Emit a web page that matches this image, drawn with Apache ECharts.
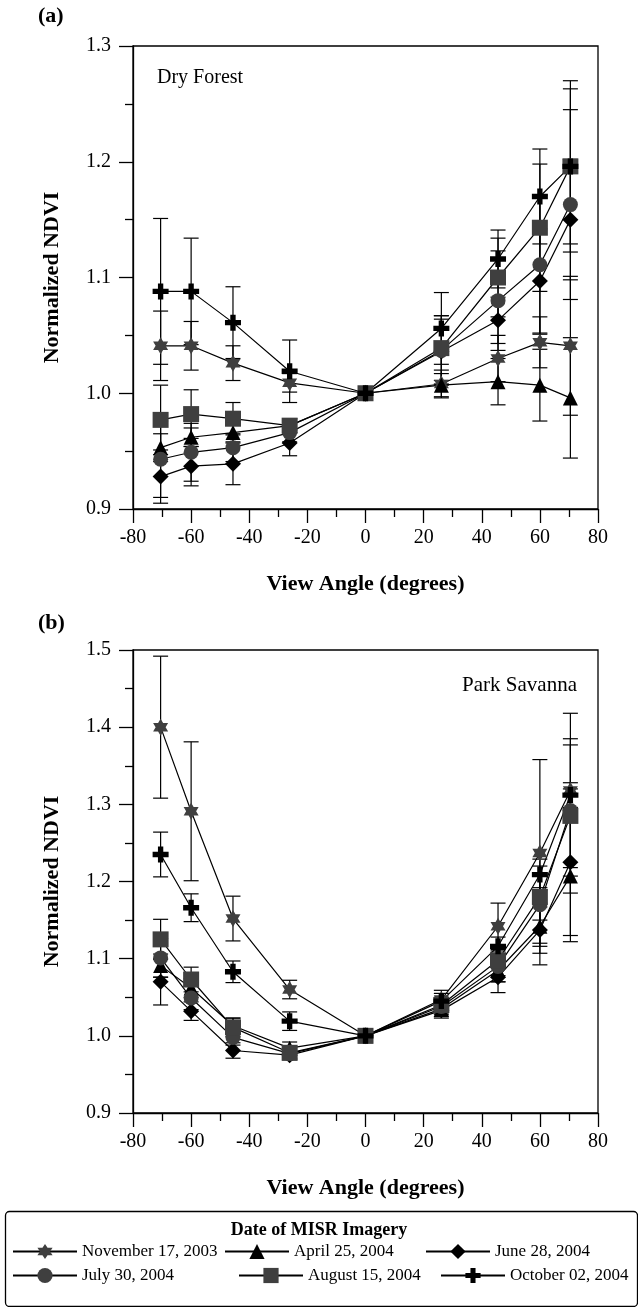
<!DOCTYPE html>
<html>
<head>
<meta charset="utf-8">
<script src="https://cdn.jsdelivr.net/npm/echarts@6/dist/echarts.min.js"></script>
<style>
html,body{margin:0;padding:0;background:#fff;}
#chart{width:638px;height:1307px;}
</style>
</head>
<body>
<div id="chart"></div>
<script>
// View angles (degrees) of the MISR cameras
const angles = [-70.5, -60, -45.6, -26.1, 0, 26.1, 45.6, 60, 70.5];
const seriesNames = ['November 17, 2003', 'April 25, 2004', 'June 28, 2004', 'July 30, 2004', 'August 15, 2004', 'October 02, 2004'];
const yTicksA = [0.9, 1.0, 1.1, 1.2, 1.3];
const yTicksB = [0.9, 1.0, 1.1, 1.2, 1.3, 1.4, 1.5];
const xTicks = [-80, -60, -40, -20, 0, 20, 40, 60, 80];

// (a) Dry Forest — normalized NDVI and error (half-length of bar)
const dryNov = [1.041, 1.041, 1.026, 1.009, 1.000, 1.008, 1.030, 1.044, 1.041];
const dryNovErr = [0.030, 0.021, 0.015, 0.008, 0, 0.012, 0.020, 0.022, 0.060];
const dryApr = [0.953, 0.962, 0.966, 0.972, 1.000, 1.007, 1.010, 1.007, 0.996];
const dryAprErr = [0.012, 0.008, 0.008, 0.006, 0, 0.010, 0.020, 0.031, 0.052];
const dryJun = [0.928, 0.937, 0.939, 0.957, 1.000, 1.036, 1.063, 1.097, 1.150];
const dryJunErr = [0.023, 0.017, 0.018, 0.011, 0, 0.028, 0.020, 0.045, 0.052];
const dryJul = [0.943, 0.949, 0.953, 0.966, 1.000, 1.037, 1.080, 1.111, 1.163];
const dryJulErr = [0.033, 0.025, 0.012, 0.008, 0, 0.030, 0.043, 0.060, 0.082];
const dryAug = [0.977, 0.982, 0.978, 0.972, 1.000, 1.039, 1.100, 1.143, 1.196];
const dryAugErr = [0.030, 0.021, 0.014, 0.006, 0, 0.028, 0.034, 0.055, 0.074];
const dryOct = [1.088, 1.088, 1.061, 1.019, 1.000, 1.056, 1.116, 1.170, 1.196];
const dryOctErr = [0.063, 0.046, 0.031, 0.027, 0, 0.031, 0.025, 0.041, 0.067];

// (b) Park Savanna
const savNov = [1.400, 1.291, 1.152, 1.060, 1.000, 1.047, 1.142, 1.237, 1.318];
const savNovErr = [0.092, 0.090, 0.029, 0.012, 0, 0.012, 0.030, 0.121, 0.100];
const savApr = [1.091, 1.062, 1.013, 0.984, 1.000, 1.035, 1.085, 1.142, 1.207];
const savAprErr = [0.015, 0.012, 0.010, 0.008, 0, 0.010, 0.015, 0.050, 0.085];
const savJun = [1.070, 1.032, 0.981, 0.975, 1.000, 1.033, 1.076, 1.137, 1.225];
const savJunErr = [0.030, 0.012, 0.010, 0.006, 0, 0.010, 0.020, 0.030, 0.095];
const savJul = [1.101, 1.049, 0.998, 0.977, 1.000, 1.038, 1.090, 1.170, 1.292];
const savJulErr = [0.025, 0.015, 0.010, 0.006, 0, 0.010, 0.020, 0.050, 0.085];
const savAug = [1.125, 1.073, 1.011, 0.978, 1.000, 1.040, 1.098, 1.180, 1.285];
const savAugErr = [0.026, 0.016, 0.012, 0.008, 0, 0.010, 0.020, 0.030, 0.100];
const savOct = [1.235, 1.166, 1.083, 1.019, 1.000, 1.045, 1.116, 1.209, 1.312];
const savOctErr = [0.029, 0.018, 0.014, 0.012, 0, 0.010, 0.012, 0.020, 0.016];

const dryVals = [dryNov, dryApr, dryJun, dryJul, dryAug, dryOct];
const dryErrs = [dryNovErr, dryAprErr, dryJunErr, dryJulErr, dryAugErr, dryOctErr];
const savVals = [savNov, savApr, savJun, savJul, savAug, savOct];
const savErrs = [savNovErr, savAprErr, savJunErr, savJulErr, savAugErr, savOctErr];

const SERIF = 'Liberation Serif';
const DARK = '#3f3f3f';
const symbols = [
  {symbol: 'path://M0,-10L2.887,-5L8.66,-5L5.774,0L8.66,5L2.887,5L0,10L-2.887,5L-8.66,5L-5.774,0L-8.66,-5L-2.887,-5Z', size: [15, 17], color: DARK},
  {symbol: 'triangle', size: 15, color: '#000'},
  {symbol: 'diamond', size: 16, color: '#000'},
  {symbol: 'circle', size: 15, color: DARK},
  {symbol: 'rect', size: 16, color: DARK},
  {symbol: 'path://M-3,-9L3,-9L3,-3L9,-3L9,3L3,3L3,9L-3,9L-3,3L-9,3L-9,-3L-3,-3Z', size: 16, color: '#000'}
];

function renderErr(params, api) {
  const x = api.value(0), lo = api.value(1), hi = api.value(2);
  const p1 = api.coord([x, lo]), p2 = api.coord([x, hi]);
  const w = 7.5;
  const st = {stroke: '#000', lineWidth: 1.2};
  return {type: 'group', children: [
    {type: 'line', shape: {x1: p1[0], y1: p1[1], x2: p2[0], y2: p2[1]}, style: st},
    {type: 'line', shape: {x1: p1[0] - w, y1: p1[1], x2: p1[0] + w, y2: p1[1]}, style: st},
    {type: 'line', shape: {x1: p2[0] - w, y1: p2[1], x2: p2[0] + w, y2: p2[1]}, style: st}
  ]};
}

const series = [];
function addPanel(vals, errs, idx) {
  vals.forEach((v, i) => {
    const errData = [];
    angles.forEach((a, k) => { if (errs[i][k] > 0) errData.push([a, v[k] - errs[i][k], v[k] + errs[i][k]]); });
    series.push({
      type: 'custom', name: seriesNames[i] + ' error', xAxisIndex: idx, yAxisIndex: idx,
      renderItem: renderErr, encode: {x: 0, y: [1, 2]}, data: errData, silent: true, z: 2
    });
  });
  vals.forEach((v, i) => {
    series.push({
      type: 'line', name: seriesNames[i], xAxisIndex: idx, yAxisIndex: idx,
      data: angles.map((a, k) => [a, v[k]]),
      symbol: symbols[i].symbol, symbolSize: symbols[i].size,
      itemStyle: {color: symbols[i].color, borderWidth: 0},
      lineStyle: {color: '#000', width: 1.2},
      animation: false, z: 3
    });
  });
}
addPanel(dryVals, dryErrs, 0);
addPanel(savVals, savErrs, 1);

function xAxis(idx) {
  return {
    type: 'value', gridIndex: idx, min: xTicks[0], max: xTicks[xTicks.length - 1], interval: 20,
    name: 'View Angle (degrees)', nameLocation: 'middle', nameGap: 64,
    nameTextStyle: {fontFamily: SERIF, fontWeight: 'bold', fontSize: 22, color: '#000'},
    axisLine: {onZero: false, lineStyle: {color: '#000', width: 1.3}},
    axisTick: {show: true, length: 14, lineStyle: {color: '#000', width: 1.3}},
    minorTick: {show: true, splitNumber: 2, length: 8, lineStyle: {color: '#000', width: 1.3}},
    axisLabel: {fontFamily: SERIF, fontSize: 20, color: '#000', margin: 19},
    splitLine: {show: false}
  };
}
function yAxis(idx, ticks) {
  return {
    type: 'value', gridIndex: idx, min: ticks[0], max: ticks[ticks.length - 1], interval: 0.1,
    name: 'Normalized NDVI', nameLocation: 'middle', nameGap: 70, nameRotate: 90,
    nameTextStyle: {fontFamily: SERIF, fontWeight: 'bold', fontSize: 22, color: '#000'},
    axisLine: {onZero: false, lineStyle: {color: '#000', width: 1.3}},
    axisTick: {show: true, length: 14, lineStyle: {color: '#000', width: 1.3}},
    minorTick: {show: true, splitNumber: 2, length: 8, lineStyle: {color: '#000', width: 1.3}},
    axisLabel: {fontFamily: SERIF, fontSize: 20, color: '#000', margin: 22, formatter: v => v.toFixed(1)},
    splitLine: {show: false}
  };
}

const legendPos = [
  {left: 12, top: 1253}, {left: 224, top: 1253}, {left: 425, top: 1253},
  {left: 12, top: 1277}, {left: 238, top: 1277}, {left: 440, top: 1277}
];
const legends = seriesNames.map((n, i) => ({
  data: [n], left: legendPos[i].left, top: legendPos[i].top - 10, orient: 'horizontal',
  itemWidth: 64, itemHeight: 19, padding: 0, selectedMode: false,
  textStyle: {fontFamily: SERIF, fontSize: 17, color: '#000', padding: [0, 0, 0, 0]}
}));

const chart = echarts.init(document.getElementById('chart'), null, {renderer: 'canvas'});
chart.setOption({
  backgroundColor: '#fff',
  animation: false,
  grid: [
    {left: 133, top: 46, width: 465, height: 463, show: true, borderColor: '#000', borderWidth: 1.3},
    {left: 133, top: 650, width: 465, height: 463, show: true, borderColor: '#000', borderWidth: 1.3}
  ],
  xAxis: [xAxis(0), xAxis(1)],
  yAxis: [yAxis(0, yTicksA), yAxis(1, yTicksB)],
  legend: legends,
  series: series,
  graphic: [
    {type: 'text', left: 38, top: 5, style: {text: '(a)', font: 'bold 22px "Liberation Serif"', fill: '#000'}},
    {type: 'text', left: 38, top: 612, style: {text: '(b)', font: 'bold 22px "Liberation Serif"', fill: '#000'}},
    {type: 'text', left: 157, top: 68, style: {text: 'Dry Forest', font: '20px "Liberation Serif"', fill: '#000'}},
    {type: 'text', right: 61, top: 675, style: {text: 'Park Savanna', font: '21px "Liberation Serif"', fill: '#000'}},
    {type: 'rect', left: 3, top: 1209, shape: {width: 632, height: 95, r: 4}, style: {fill: 'none', stroke: '#000', lineWidth: 1.3}},
    {type: 'text', left: 'center', top: 1221, style: {text: 'Date of MISR Imagery', font: 'bold 18px "Liberation Serif"', fill: '#000'}}
  ]
});
</script>
</body>
</html>
